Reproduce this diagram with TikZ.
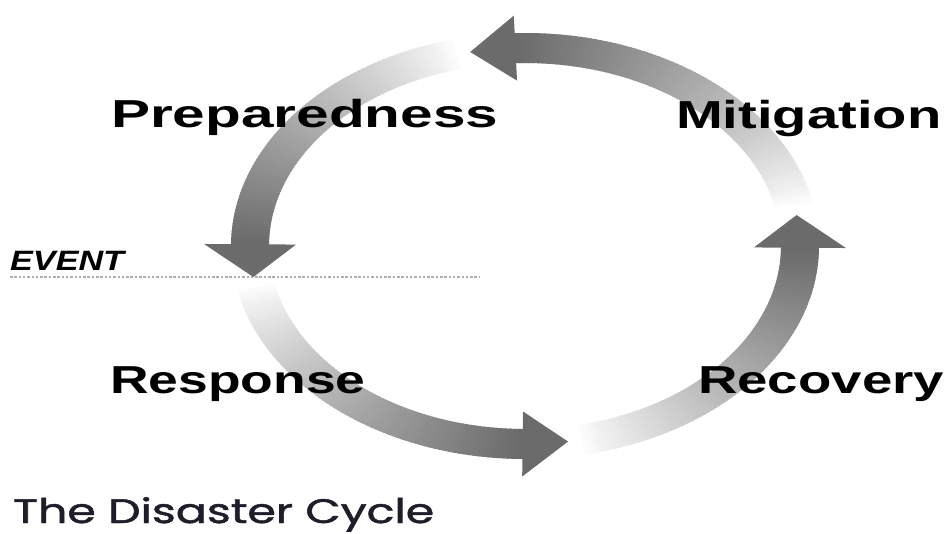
\documentclass[tikz,border=0pt]{standalone}
\usepackage{fontspec}
\setmainfont{Liberation Sans}
\newfontfamily\titlefont[FakeBold=1.3]{Poppins}
\definecolor{titlecol}{RGB}{30,30,42}
\definecolor{eventline}{RGB}{175,175,175}
\newcommand\drawcyclearc[2]{%
  \pgfmathsetmacro\tbase{#2-9.5}%
  \pgfmathsetmacro\arcspan{\tbase-#1}%
  \foreach \i in {0,...,79} {%
    \pgfmathsetmacro\angA{#1+\arcspan*\i/80}%
    \pgfmathsetmacro\angB{#1+\arcspan*(\i+1)/80+0.4}%
    \pgfmathsetmacro\pc{58*(\i/79)^0.85}%
    \fill[black!\pc] ({525+294*cos(\angA)},{246-213*sin(\angA)}) -- ({525+294*cos(\angB)},{246-213*sin(\angB)}) -- ({525+256*cos(\angB)},{246-183*sin(\angB)}) -- ({525+256*cos(\angA)},{246-183*sin(\angA)}) -- cycle;
  }%
  \fill[black!58] ({525+321*cos(\tbase)},{246-230.5*sin(\tbase)}) -- ({525+275*cos(#2)},{246-198*sin(#2)}) -- ({525+229*cos(\tbase)},{246-165.5*sin(\tbase)}) -- cycle;
}
\begin{document}
\begin{tikzpicture}[x=1pt,y=-1pt,
  lbl/.style={anchor=base west, inner sep=0pt, font=\bfseries\fontsize{39}{39}\selectfont}]
\useasboundingbox (0,0) rectangle (952,533);
\fill[white] (0,0) rectangle (952,533);
% event line
\coordinate (evA) at (10,277);
\coordinate (evB) at (480,277);
\draw[eventline, line width=1.2pt, dash pattern=on 2.5pt off 1.8pt] (evA) -- (evB);
% arcs
\drawcyclearc{11}{101.5}
\drawcyclearc{103.5}{189}
\drawcyclearc{191}{279}
\drawcyclearc{281}{369}
% labels
\node[lbl] (prep) at (111,127) {\scalebox{1.50}[1]{Preparedness}};
\node[lbl] (miti) at (676,128) {\scalebox{1.44}[1]{Mitigation}};
\node[lbl] (resp) at (110,393) {\scalebox{1.37}[1]{Response}};
\node[lbl] (reco) at (698,393) {\scalebox{1.40}[1]{Recovery}};
\node[anchor=base west, inner sep=0pt, font=\bfseries\itshape\fontsize{28}{28}\selectfont] (event) at (10,270) {\scalebox{1.22}[1]{EVENT}};
\node[anchor=base west, inner sep=0pt, text=titlecol, font=\titlefont\fontsize{34}{34}\selectfont] (title) at (13,523) {\scalebox{1.35}[1]{The Disaster Cycle}};
\end{tikzpicture}
\end{document}
